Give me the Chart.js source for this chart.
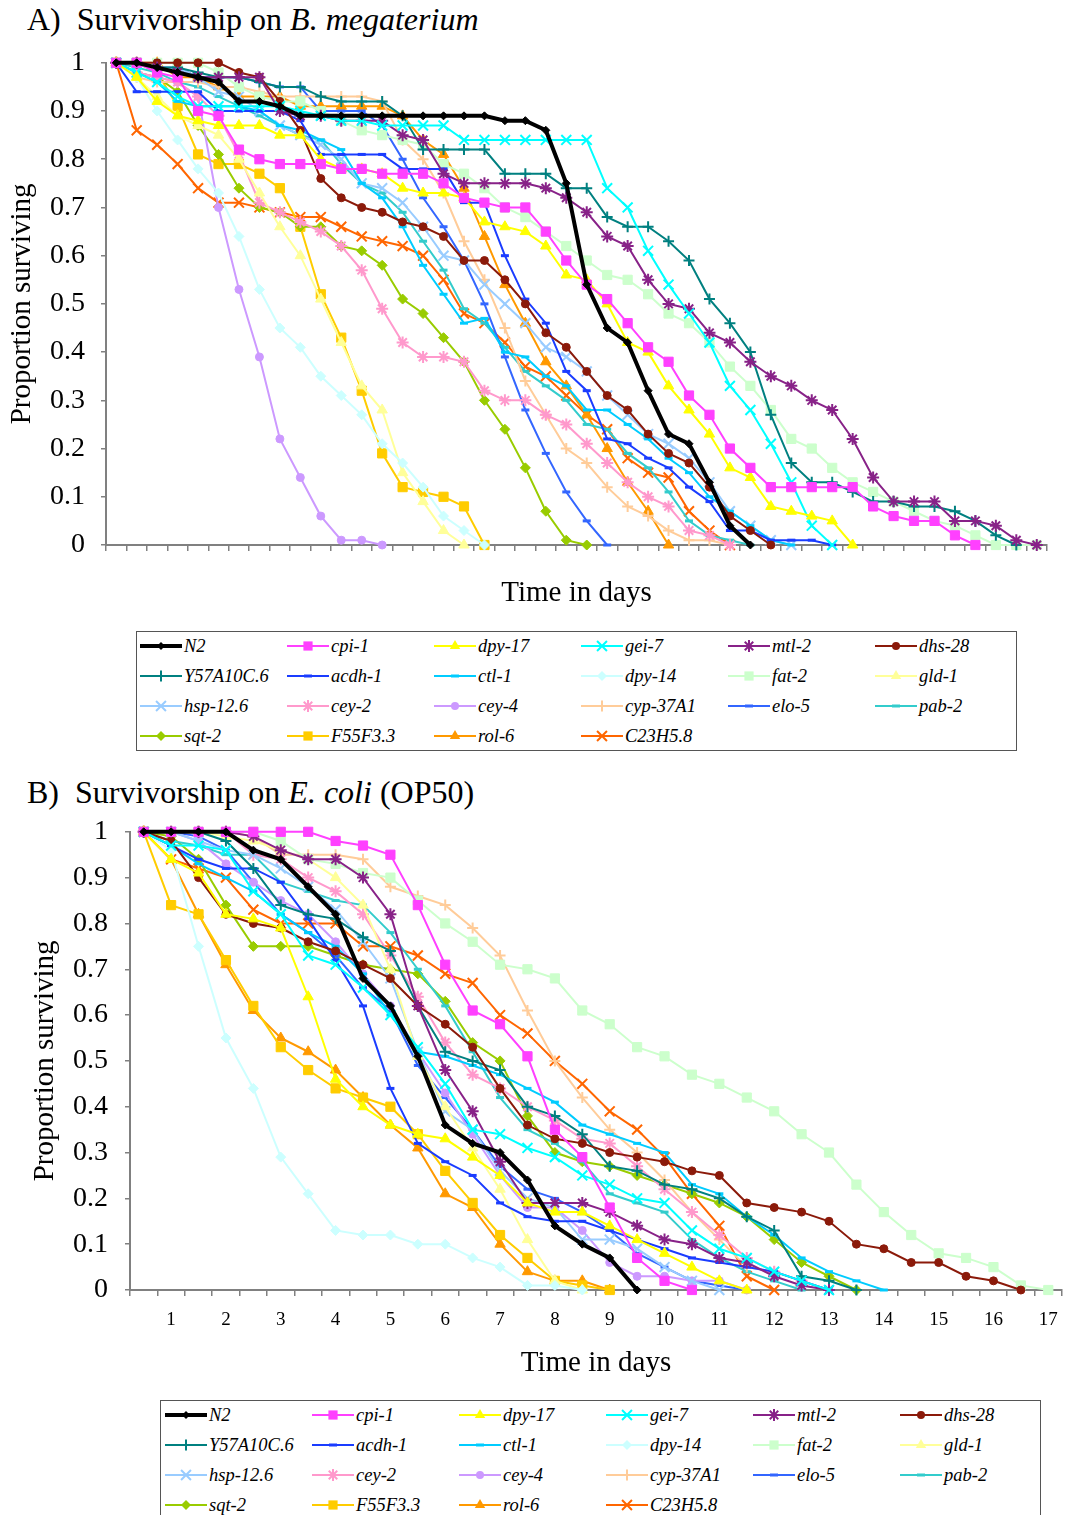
<!DOCTYPE html>
<html>
<head>
<meta charset="utf-8">
<script src="https://cdn.jsdelivr.net/npm/chart.js@4.4.1/dist/chart.umd.min.js"></script>
<style>
  body { margin: 0; background: #fff; width: 1071px; height: 1515px; position: relative; overflow: hidden;
         font-family: "Liberation Serif", "Times New Roman", serif; color: #000; }
  .title { position: absolute; font-size: 32px; line-height: 1; white-space: nowrap; }
  .chartbox { position: absolute; left: 0; width: 1071px; }
  .legend { position: absolute; border: 1.5px solid #555; box-sizing: border-box; background: #fff; }
  .leg-item { position: absolute; display: flex; align-items: center; height: 22px;
              font-style: italic; font-size: 18.5px; white-space: nowrap; }
  .leg-item canvas { margin-right: 2px; }
</style>
</head>
<body>
<div class="title" style="left:27px; top:3px">A)&nbsp; Survivorship on <i>B. megaterium</i></div>
<div class="chartbox" style="top:30px; height:590px"><canvas id="chartA"></canvas></div>
<div class="legend" id="legendA" style="left:136px; top:631px; width:881px; height:120px"></div>

<div class="title" style="left:27px; top:776px">B)&nbsp; Survivorship on <i>E. coli</i> (OP50)</div>
<div class="chartbox" style="top:798px; height:602px"><canvas id="chartB"></canvas></div>
<div class="legend" id="legendB" style="left:160px; top:1400px; width:881px; height:130px"></div>

<script>
// Categories (time points, half days)
const daysA = [0.5, 1, 1.5, 2, 2.5, 3, 3.5, 4, 4.5, 5, 5.5, 6, 6.5, 7, 7.5, 8, 8.5, 9, 9.5, 10,
  10.5, 11, 11.5, 12, 12.5, 13, 13.5, 14, 14.5, 15, 15.5, 16, 16.5, 17, 17.5, 18, 18.5, 19, 19.5, 20,
  20.5, 21, 21.5, 22, 22.5, 23];
const daysB = [0.5, 1, 1.5, 2, 2.5, 3, 3.5, 4, 4.5, 5, 5.5, 6, 6.5, 7, 7.5, 8, 8.5, 9, 9.5, 10,
  10.5, 11, 11.5, 12, 12.5, 13, 13.5, 14, 14.5, 15, 15.5, 16, 16.5, 17];

const strains = ['N2', 'cpi-1', 'dpy-17', 'gei-7', 'mtl-2', 'dhs-28', 'Y57A10C.6', 'acdh-1', 'ctl-1', 'dpy-14', 'fat-2',
  'gld-1', 'hsp-12.6', 'cey-2', 'cey-4', 'cyp-37A1', 'elo-5', 'pab-2', 'sqt-2', 'F55F3.3', 'rol-6', 'C23H5.8'];

// A) B. megaterium
const a_N2 = [1, 1, 0.99, 0.98, 0.97, 0.96, 0.92, 0.92, 0.91, 0.89, 0.89, 0.89, 0.89, 0.89, 0.89, 0.89, 0.89, 0.89, 0.89, 0.88, 0.88, 0.86, 0.75, 0.54, 0.45, 0.42, 0.32, 0.23, 0.21, 0.13, 0.04, 0];
const a_cpi1 = [1, 1, 0.98, 0.97, 0.90, 0.89, 0.82, 0.80, 0.79, 0.79, 0.79, 0.78, 0.78, 0.77, 0.77, 0.77, 0.75, 0.72, 0.71, 0.70, 0.70, 0.65, 0.59, 0.54, 0.51, 0.46, 0.41, 0.38, 0.31, 0.27, 0.20, 0.16, 0.12, 0.12, 0.12, 0.12, 0.12, 0.08, 0.06, 0.05, 0.05, 0.02, 0];
const a_dpy17 = [1, 0.97, 0.92, 0.89, 0.88, 0.87, 0.87, 0.87, 0.85, 0.85, 0.80, 0.78, 0.78, 0.77, 0.74, 0.73, 0.73, 0.72, 0.67, 0.66, 0.65, 0.62, 0.56, 0.55, 0.50, 0.42, 0.40, 0.33, 0.28, 0.23, 0.16, 0.14, 0.08, 0.07, 0.06, 0.05, 0];
const a_gei7 = [1, 0.98, 0.96, 0.93, 0.91, 0.91, 0.91, 0.91, 0.91, 0.90, 0.89, 0.88, 0.88, 0.87, 0.87, 0.87, 0.87, 0.84, 0.84, 0.84, 0.84, 0.84, 0.84, 0.84, 0.74, 0.70, 0.61, 0.54, 0.48, 0.42, 0.33, 0.28, 0.21, 0.13, 0.04, 0];
const a_mtl2 = [1, 1, 0.99, 0.98, 0.97, 0.97, 0.97, 0.97, 0.90, 0.89, 0.89, 0.88, 0.88, 0.88, 0.85, 0.84, 0.77, 0.75, 0.75, 0.75, 0.75, 0.74, 0.72, 0.69, 0.64, 0.62, 0.55, 0.50, 0.49, 0.44, 0.42, 0.38, 0.35, 0.33, 0.30, 0.28, 0.22, 0.14, 0.09, 0.09, 0.09, 0.05, 0.05, 0.04, 0.01, 0];
const a_dhs28 = [1, 1, 1, 1, 1, 1, 0.98, 0.97, 0.92, 0.86, 0.76, 0.72, 0.70, 0.69, 0.67, 0.66, 0.64, 0.59, 0.59, 0.55, 0.50, 0.44, 0.41, 0.36, 0.31, 0.28, 0.23, 0.19, 0.17, 0.12, 0.06, 0.03, 0];
const a_Y57 = [1, 1, 0.99, 0.99, 0.98, 0.97, 0.97, 0.96, 0.95, 0.95, 0.93, 0.92, 0.92, 0.92, 0.89, 0.82, 0.82, 0.82, 0.82, 0.77, 0.77, 0.77, 0.74, 0.74, 0.68, 0.66, 0.66, 0.63, 0.59, 0.51, 0.46, 0.40, 0.27, 0.17, 0.13, 0.13, 0.11, 0.09, 0.09, 0.08, 0.08, 0.07, 0.05, 0.02, 0];
const a_acdh1 = [1, 0.94, 0.94, 0.94, 0.94, 0.90, 0.90, 0.90, 0.90, 0.88, 0.81, 0.81, 0.81, 0.81, 0.78, 0.78, 0.78, 0.71, 0.71, 0.60, 0.51, 0.46, 0.36, 0.32, 0.22, 0.21, 0.18, 0.16, 0.12, 0.09, 0.03, 0.03, 0.01, 0.01, 0.01, 0];
const a_ctl1 = [1, 0.98, 0.96, 0.92, 0.91, 0.91, 0.91, 0.90, 0.87, 0.86, 0.84, 0.82, 0.75, 0.72, 0.66, 0.58, 0.52, 0.46, 0.47, 0.40, 0.39, 0.35, 0.33, 0.28, 0.28, 0.25, 0.22, 0.18, 0.15, 0.10, 0.07, 0.04, 0.01, 0];
const a_dpy14 = [1, 0.97, 0.90, 0.84, 0.78, 0.73, 0.64, 0.53, 0.45, 0.41, 0.35, 0.31, 0.27, 0.21, 0.17, 0.12, 0.06, 0.03, 0];
const a_fat2 = [1, 1, 1, 1, 1, 0.98, 0.95, 0.93, 0.92, 0.92, 0.90, 0.88, 0.86, 0.85, 0.84, 0.83, 0.79, 0.77, 0.74, 0.70, 0.68, 0.65, 0.62, 0.59, 0.56, 0.55, 0.52, 0.48, 0.46, 0.42, 0.37, 0.33, 0.28, 0.22, 0.20, 0.16, 0.13, 0.11, 0.09, 0.07, 0.05, 0.04, 0.02, 0, 0, 0];
const a_gld1 = [1, 0.97, 0.93, 0.89, 0.87, 0.85, 0.80, 0.73, 0.66, 0.60, 0.51, 0.42, 0.33, 0.28, 0.15, 0.09, 0.03, 0];
const a_hsp126 = [1, 1, 0.99, 0.99, 0.97, 0.94, 0.93, 0.90, 0.87, 0.85, 0.83, 0.80, 0.75, 0.74, 0.71, 0.66, 0.60, 0.59, 0.54, 0.50, 0.46, 0.41, 0.39, 0.36, 0.31, 0.27, 0.23, 0.21, 0.18, 0.13, 0.07, 0.04, 0.01, 0];
const a_cey2 = [1, 0.98, 0.97, 0.96, 0.93, 0.89, 0.81, 0.71, 0.69, 0.67, 0.65, 0.62, 0.57, 0.49, 0.42, 0.39, 0.39, 0.38, 0.32, 0.30, 0.30, 0.27, 0.25, 0.21, 0.17, 0.13, 0.10, 0.08, 0.03, 0.02, 0];
const a_cey4 = [1, 0.98, 0.97, 0.96, 0.93, 0.70, 0.53, 0.39, 0.22, 0.14, 0.06, 0.01, 0.01, 0];
const a_cyp37 = [1, 0.97, 0.96, 0.96, 0.96, 0.95, 0.95, 0.94, 0.93, 0.93, 0.93, 0.93, 0.93, 0.92, 0.84, 0.80, 0.73, 0.63, 0.55, 0.45, 0.34, 0.27, 0.20, 0.17, 0.12, 0.08, 0.06, 0.03, 0.01, 0.01, 0];
const a_elo5 = [1, 1, 0.99, 0.99, 0.97, 0.97, 0.97, 0.96, 0.95, 0.95, 0.90, 0.90, 0.90, 0.87, 0.80, 0.72, 0.66, 0.59, 0.50, 0.39, 0.28, 0.19, 0.11, 0.05, 0];
const a_pab2 = [1, 0.99, 0.98, 0.96, 0.95, 0.93, 0.91, 0.89, 0.87, 0.85, 0.84, 0.79, 0.75, 0.73, 0.69, 0.63, 0.57, 0.49, 0.46, 0.41, 0.36, 0.33, 0.30, 0.25, 0.24, 0.19, 0.16, 0.11, 0.05, 0.02, 0.01, 0];
const a_sqt2 = [1, 0.98, 0.97, 0.94, 0.87, 0.81, 0.74, 0.70, 0.69, 0.66, 0.66, 0.62, 0.61, 0.58, 0.51, 0.48, 0.43, 0.38, 0.30, 0.24, 0.16, 0.07, 0.01, 0];
const a_F55 = [1, 1, 0.98, 0.91, 0.81, 0.79, 0.79, 0.77, 0.74, 0.66, 0.52, 0.43, 0.32, 0.19, 0.12, 0.11, 0.10, 0.08, 0];
const a_rol6 = [1, 1, 1, 0.97, 0.97, 0.95, 0.93, 0.93, 0.93, 0.91, 0.91, 0.91, 0.91, 0.91, 0.89, 0.84, 0.81, 0.74, 0.64, 0.54, 0.46, 0.38, 0.33, 0.27, 0.20, 0.13, 0.07, 0];
const a_C23 = [1, 0.86, 0.83, 0.79, 0.74, 0.71, 0.71, 0.70, 0.69, 0.68, 0.68, 0.66, 0.64, 0.63, 0.62, 0.60, 0.55, 0.48, 0.46, 0.42, 0.37, 0.35, 0.31, 0.27, 0.24, 0.18, 0.15, 0.14, 0.07, 0.03, 0];

// B) E. coli (OP50)
const b_N2 = [1, 1, 1, 1, 0.96, 0.94, 0.88, 0.82, 0.68, 0.62, 0.51, 0.36, 0.32, 0.30, 0.24, 0.14, 0.10, 0.07, 0];
const b_cpi1 = [1, 1, 1, 1, 1, 1, 1, 0.98, 0.97, 0.95, 0.84, 0.71, 0.61, 0.58, 0.51, 0.35, 0.29, 0.18, 0.07, 0.02, 0];
const b_dpy17 = [1, 0.94, 0.91, 0.82, 0.81, 0.79, 0.64, 0.46, 0.40, 0.36, 0.34, 0.33, 0.29, 0.25, 0.19, 0.17, 0.17, 0.14, 0.11, 0.08, 0.05, 0.02, 0];
const b_gei7 = [1, 0.97, 0.97, 0.96, 0.87, 0.82, 0.73, 0.71, 0.66, 0.60, 0.53, 0.45, 0.35, 0.34, 0.31, 0.29, 0.25, 0.23, 0.20, 0.19, 0.13, 0.09, 0.07, 0.04, 0.02, 0];
const b_mtl2 = [1, 1, 1, 1, 0.99, 0.96, 0.94, 0.94, 0.90, 0.82, 0.62, 0.48, 0.39, 0.28, 0.19, 0.19, 0.19, 0.17, 0.14, 0.11, 0.10, 0.07, 0.06, 0.03, 0.01, 0];
const b_dhs28 = [1, 0.98, 0.90, 0.82, 0.80, 0.79, 0.76, 0.74, 0.71, 0.68, 0.62, 0.58, 0.53, 0.44, 0.36, 0.33, 0.32, 0.30, 0.29, 0.28, 0.26, 0.25, 0.19, 0.18, 0.17, 0.15, 0.10, 0.09, 0.06, 0.06, 0.03, 0.02, 0];
const b_Y57 = [1, 1, 1, 0.98, 0.92, 0.84, 0.82, 0.81, 0.77, 0.74, 0.62, 0.52, 0.50, 0.48, 0.40, 0.38, 0.34, 0.27, 0.26, 0.23, 0.22, 0.20, 0.16, 0.13, 0.03, 0.02, 0];
const b_acdh1 = [1, 0.97, 0.94, 0.92, 0.92, 0.89, 0.81, 0.72, 0.62, 0.44, 0.32, 0.28, 0.25, 0.19, 0.16, 0.15, 0.15, 0.13, 0.11, 0.09, 0.07, 0.06, 0.05, 0.04, 0.02, 0];
const b_ctl1 = [1, 0.97, 0.93, 0.90, 0.87, 0.82, 0.78, 0.75, 0.69, 0.60, 0.52, 0.51, 0.49, 0.47, 0.44, 0.41, 0.36, 0.34, 0.32, 0.30, 0.23, 0.21, 0.16, 0.12, 0.07, 0.04, 0.02, 0];
const b_dpy14 = [1, 0.96, 0.75, 0.55, 0.44, 0.29, 0.21, 0.13, 0.12, 0.12, 0.10, 0.10, 0.07, 0.05, 0.01, 0.01, 0];
const b_fat2 = [1, 1, 1, 1, 1, 0.98, 0.94, 0.93, 0.91, 0.90, 0.85, 0.80, 0.76, 0.71, 0.70, 0.68, 0.61, 0.58, 0.53, 0.51, 0.47, 0.45, 0.42, 0.39, 0.34, 0.30, 0.23, 0.17, 0.12, 0.08, 0.07, 0.05, 0.01, 0];
const b_gld1 = [1, 1, 1, 0.99, 0.98, 0.96, 0.94, 0.90, 0.84, 0.70, 0.51, 0.40, 0.31, 0.22, 0.11, 0.02, 0];
const b_hsp126 = [1, 1, 0.98, 0.96, 0.95, 0.92, 0.88, 0.83, 0.76, 0.68, 0.52, 0.39, 0.35, 0.26, 0.20, 0.18, 0.11, 0.11, 0.09, 0.05, 0.02, 0];
const b_cey2 = [1, 1, 1, 1, 0.95, 0.94, 0.90, 0.87, 0.82, 0.73, 0.64, 0.54, 0.47, 0.44, 0.40, 0.37, 0.33, 0.32, 0.27, 0.22, 0.17, 0.12, 0.07, 0.04, 0.02, 0];
const b_cey4 = [1, 1, 0.98, 0.93, 0.89, 0.85, 0.82, 0.76, 0.69, 0.62, 0.52, 0.43, 0.34, 0.25, 0.18, 0.18, 0.13, 0.06, 0.03, 0.03, 0.02, 0.02, 0];
const b_cyp37 = [1, 1, 1, 1, 0.99, 0.95, 0.95, 0.95, 0.94, 0.88, 0.86, 0.84, 0.79, 0.73, 0.61, 0.50, 0.42, 0.35, 0.30, 0.24, 0.17, 0.11, 0.05, 0.04, 0.02, 0];
const b_elo5 = [1, 1, 0.99, 0.96, 0.89, 0.82, 0.78, 0.73, 0.66, 0.61, 0.49, 0.42, 0.35, 0.27, 0.22, 0.20, 0.17, 0.13, 0.08, 0.05, 0.02, 0.01, 0];
const b_pab2 = [1, 0.98, 0.97, 0.95, 0.95, 0.89, 0.87, 0.85, 0.84, 0.78, 0.70, 0.62, 0.52, 0.42, 0.35, 0.32, 0.28, 0.21, 0.19, 0.17, 0.11, 0.07, 0.04, 0.02, 0];
const b_sqt2 = [1, 0.99, 0.94, 0.84, 0.75, 0.75, 0.75, 0.73, 0.71, 0.70, 0.69, 0.63, 0.54, 0.50, 0.38, 0.30, 0.28, 0.27, 0.25, 0.23, 0.21, 0.19, 0.16, 0.11, 0.06, 0.03, 0];
const b_F55 = [1, 0.84, 0.82, 0.72, 0.62, 0.53, 0.48, 0.44, 0.42, 0.40, 0.34, 0.26, 0.19, 0.12, 0.07, 0.02, 0.01, 0];
const b_rol6 = [1, 0.94, 0.82, 0.71, 0.61, 0.55, 0.52, 0.48, 0.42, 0.36, 0.31, 0.21, 0.18, 0.10, 0.04, 0.02, 0.02, 0];
const b_C23 = [1, 0.94, 0.92, 0.90, 0.83, 0.80, 0.80, 0.80, 0.75, 0.75, 0.73, 0.69, 0.67, 0.60, 0.56, 0.50, 0.45, 0.39, 0.35, 0.29, 0.21, 0.14, 0.03, 0];

const panelA = [a_N2, a_cpi1, a_dpy17, a_gei7, a_mtl2, a_dhs28, a_Y57, a_acdh1, a_ctl1, a_dpy14, a_fat2,
  a_gld1, a_hsp126, a_cey2, a_cey4, a_cyp37, a_elo5, a_pab2, a_sqt2, a_F55, a_rol6, a_C23];
const panelB = [b_N2, b_cpi1, b_dpy17, b_gei7, b_mtl2, b_dhs28, b_Y57, b_acdh1, b_ctl1, b_dpy14, b_fat2,
  b_gld1, b_hsp126, b_cey2, b_cey4, b_cyp37, b_elo5, b_pab2, b_sqt2, b_F55, b_rol6, b_C23];

// Styles
const strainColors = ['#000000', '#FF40FF', '#FFFF00', '#00FFFF', '#882288', '#8B1A0A', '#008080', '#1A3CFF',
  '#00CCFF', '#CCFFFF', '#CCFFCC', '#FFFF99', '#99CCFF', '#FF99CC', '#CC99FF', '#FFCC99', '#3366FF',
  '#33CCCC', '#99CC00', '#FFCC00', '#FF9900', '#FF6600'];
const strainMarkers = ['rectRot', 'rect', 'triangle', 'crossRot', 'star', 'circle', 'cross', 'line', 'line',
  'rectRot', 'rect', 'triangle', 'crossRot', 'star', 'circle', 'cross', 'line', 'line', 'rectRot', 'rect',
  'triangle', 'crossRot'];
const markerSize = { rectRot: 5, rect: 6.5, triangle: 6, crossRot: 7, star: 6, circle: 4, cross: 5.5, line: 4 };
const serif = '"Liberation Serif", "Times New Roman", serif';

function markerWidth(style) {
  if (style === 'line') return 3;
  if (style === 'cross' || style === 'crossRot' || style === 'star') return 2;
  return 1;
}

function buildDatasets(values) {
  return strains.map((name, k) => {
    const st = strainMarkers[k];
    return {
      label: name,
      data: values[k],
      borderColor: strainColors[k],
      backgroundColor: strainColors[k],
      pointBackgroundColor: strainColors[k],
      pointBorderColor: strainColors[k],
      pointStyle: st,
      pointRadius: k === 0 ? 4 : markerSize[st],
      pointBorderWidth: markerWidth(st),
      borderWidth: k === 0 ? 4 : 2,
      tension: 0,
      clip: false
    };
  });
}

function makeChart(id, labels, values, opt) {
  return new Chart(document.getElementById(id), {
    type: 'line',
    data: { labels: labels, datasets: buildDatasets(values) },
    options: {
      responsive: true,
      maintainAspectRatio: false,
      animation: false,
      layout: { padding: { top: 0, right: opt.padRight, left: 0, bottom: 0 } },
      plugins: { legend: { display: false }, tooltip: { enabled: false } },
      scales: {
        x: {
          type: 'category',
          offset: true,
          afterFit: (s) => { s.height = opt.xHeight; },
          grid: { offset: true, drawOnChartArea: false, drawTicks: true, tickLength: 6, color: '#808080', lineWidth: 1.5 },
          border: { color: '#808080', width: 2 },
          ticks: {
            autoSkip: false, maxRotation: 0, padding: opt.xTickPad, color: '#000',
            font: { family: serif, size: 19 },
            callback: (v, i) => opt.showDays && Number.isInteger(labels[i]) ? String(labels[i]) : ''
          },
          title: { display: true, text: 'Time in days', color: '#000', font: { family: serif, size: 29 },
                   padding: { top: 0, bottom: opt.xTitlePad } }
        },
        y: {
          min: 0, max: 1,
          afterFit: (s) => { s.width = opt.yWidth; },
          grid: { drawOnChartArea: false, drawTicks: true, tickLength: 5, color: '#808080', lineWidth: 1.5 },
          border: { color: '#808080', width: 2 },
          ticks: { stepSize: 0.1, padding: opt.yTickPad, color: '#000', font: { family: serif, size: 28 },
                   callback: (v) => String(Math.round(v * 10) / 10) },
          title: { display: true, text: 'Proportion surviving', color: '#000', font: { family: serif, size: 29 },
                   padding: { top: opt.yTitlePad, bottom: 0 } }
        }
      }
    }
  });
}

function drawMarker(ctx, style, x, y, r, color) {
  ctx.save();
  ctx.fillStyle = color;
  ctx.strokeStyle = color;
  ctx.lineWidth = markerWidth(style);
  ctx.beginPath();
  const s = Math.SQRT1_2 * r;
  if (style === 'circle') {
    ctx.arc(x, y, r, 0, Math.PI * 2); ctx.fill();
  } else if (style === 'rect') {
    ctx.fillRect(x - s, y - s, 2 * s, 2 * s);
  } else if (style === 'rectRot') {
    ctx.moveTo(x, y - r); ctx.lineTo(x + r, y); ctx.lineTo(x, y + r); ctx.lineTo(x - r, y);
    ctx.closePath(); ctx.fill();
  } else if (style === 'triangle') {
    for (let i = 0; i < 3; i++) {
      const a = i * 2 * Math.PI / 3;
      const px = x + Math.sin(a) * r, py = y - Math.cos(a) * r;
      if (i === 0) ctx.moveTo(px, py); else ctx.lineTo(px, py);
    }
    ctx.closePath(); ctx.fill();
  } else {
    if (style === 'cross' || style === 'star') {
      ctx.moveTo(x, y - r); ctx.lineTo(x, y + r); ctx.moveTo(x - r, y); ctx.lineTo(x + r, y);
    }
    if (style === 'crossRot' || style === 'star') {
      ctx.moveTo(x - s, y - s); ctx.lineTo(x + s, y + s); ctx.moveTo(x + s, y - s); ctx.lineTo(x - s, y + s);
    }
    if (style === 'line') {
      ctx.moveTo(x - r, y); ctx.lineTo(x + r, y);
    }
    ctx.stroke();
  }
  ctx.restore();
}

function buildLegend(id, left0) {
  const box = document.getElementById(id);
  strains.forEach((name, k) => {
    const col = k % 6, row = Math.floor(k / 6);
    const item = document.createElement('div');
    item.className = 'leg-item';
    item.style.left = (left0 + col * 147) + 'px';
    item.style.top = (3 + row * 30) + 'px';
    const c = document.createElement('canvas');
    c.width = 42; c.height = 22;
    const ctx = c.getContext('2d');
    ctx.strokeStyle = strainColors[k];
    ctx.lineWidth = k === 0 ? 4 : 2;
    ctx.beginPath(); ctx.moveTo(0, 11); ctx.lineTo(42, 11); ctx.stroke();
    const st = strainMarkers[k];
    drawMarker(ctx, st, 21, 11, k === 0 ? 4 : markerSize[st], strainColors[k]);
    const span = document.createElement('span');
    span.textContent = name;
    item.appendChild(c);
    item.appendChild(span);
    box.appendChild(item);
  });
}

makeChart('chartA', daysA, panelA, {
  padRight: 24, xHeight: 75, yWidth: 106, xTickPad: 2, xTitlePad: 9,
  yTickPad: 16, yTitlePad: 5, showDays: false
});
makeChart('chartB', daysB, panelB, {
  padRight: 0, xHeight: 110, yWidth: 130, xTickPad: 13, xTitlePad: 19,
  yTickPad: 17, yTitlePad: 28, showDays: true
});
buildLegend('legendA', 3);
buildLegend('legendB', 4);
</script>
</body>
</html>
